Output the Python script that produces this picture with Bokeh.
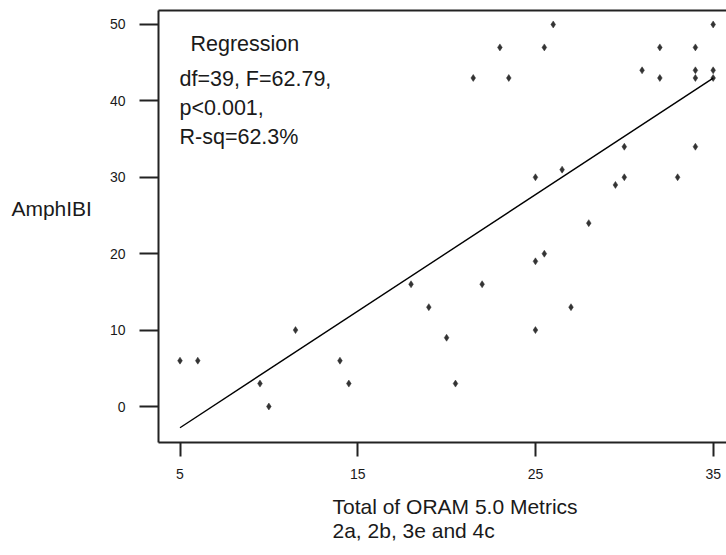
from bokeh.plotting import figure
from bokeh.models import Range1d, FixedTicker, LinearAxis, Label, Title
from bokeh.embed import file_html
from bokeh.resources import INLINE

# Total of ORAM 5.0 metrics (2a, 2b, 3e, 4c) against AmphIBI score per wetland
oram_total = [5, 6, 9.5, 10, 11.5, 14, 14.5, 18, 19, 20,
              20.5, 21.5, 22, 23, 23.5, 25, 25, 25, 25.5, 25.5,
              26, 26.5, 27, 28, 29.5, 30, 30, 31, 32, 32,
              33, 34, 34, 34, 34, 35, 35, 35]
amphibi = [6, 6, 3, 0, 10, 6, 3, 16, 13, 9,
           3, 43, 16, 47, 43, 30, 19, 10, 20, 47,
           50, 31, 13, 24, 29, 30, 34, 44, 47, 43,
           30, 47, 44, 43, 34, 50, 44, 43]

# Fitted least-squares line
fit_intercept = -10.4
fit_slope = 1.525

x_ticks = [5, 15, 25, 35]
y_ticks = [0, 10, 20, 30, 40, 50]

stats_lines = ["df=39, F=62.79,", "p<0.001,", "R-sq=62.3%"]
x_title_lines = ["Total of ORAM 5.0 Metrics", "2a, 2b, 3e and 4c"]

FONT = "Liberation Sans"
INK = "#1a1a1a"
LINE = "#222222"

p = figure(width=726, height=555, output_backend="svg", toolbar_location=None,
           x_range=Range1d(3.79, 35.75), y_range=Range1d(-4.71, 51.83),
           min_border_left=158, min_border_right=0, min_border_top=10,
           min_border_bottom=113)
p.outline_line_color = None
p.background_fill_color = "white"
p.border_fill_color = "white"
p.xgrid.visible = False
p.ygrid.visible = False

for ax in (p.xaxis[0], p.yaxis[0]):
    ax.axis_line_width = 2
    ax.axis_line_color = LINE
    ax.major_tick_line_width = 2
    ax.major_tick_line_color = LINE
    ax.major_tick_in = 0
    ax.minor_tick_in = 0
    ax.minor_tick_out = 0
    ax.major_label_text_font = FONT
    ax.major_label_text_font_size = "14px"
    ax.major_label_text_color = INK

p.xaxis[0].ticker = FixedTicker(ticks=x_ticks)
p.xaxis[0].major_tick_out = 14
p.xaxis[0].major_label_standoff = 12

yax = p.yaxis[0]
yax.ticker = FixedTicker(ticks=y_ticks)
yax.major_tick_out = 19
yax.major_label_standoff = 14
# horizontal y title, lifted a little above the frame's middle
yax.axis_label = "AmphIBI\n "
yax.axis_label_orientation = "horizontal"
yax.axis_label_text_font = FONT
yax.axis_label_text_font_size = "21px"
yax.axis_label_text_font_style = "normal"
yax.axis_label_text_color = INK
yax.axis_label_text_line_height = 1.6
yax.axis_label_standoff = 15

# top border line of the frame
top = LinearAxis(ticker=FixedTicker(ticks=[]), major_tick_out=0, major_tick_in=0,
                 minor_tick_out=0, minor_tick_in=0, major_label_text_font_size="0px",
                 major_label_standoff=0, axis_line_width=2, axis_line_color=LINE)
p.add_layout(top, "above")

# x title: two left-aligned lines under the axis
p.add_layout(Title(text="\n".join(x_title_lines), align="left", offset=174,
                   text_font=FONT, text_font_size="21px", text_font_style="normal",
                   text_color=INK, text_line_height=1.08, standoff=22), "below")

# data points
p.scatter(oram_total, amphibi, marker="diamond", size=7,
          fill_color="#333333", line_color="#333333", line_width=0.5)

# regression line over the observed range
x_line = [min(oram_total), max(oram_total)]
y_line = [fit_intercept + fit_slope * v for v in x_line]
p.line(x_line, y_line, line_color="black", line_width=1.4)

def frame_text(txt, x, y, size="21.5px"):
    p.add_layout(Label(x=x, y=y, x_units="screen", y_units="screen", text=txt,
                       text_font=FONT, text_font_size=size, text_color=INK,
                       text_baseline="alphabetic", text_align="left"))

frame_text("Regression", 32, 399)
for i, line in enumerate(stats_lines):
    frame_text(line, 21, 364 - 29 * i)

open("out.html", "w").write(file_html(p, INLINE))
